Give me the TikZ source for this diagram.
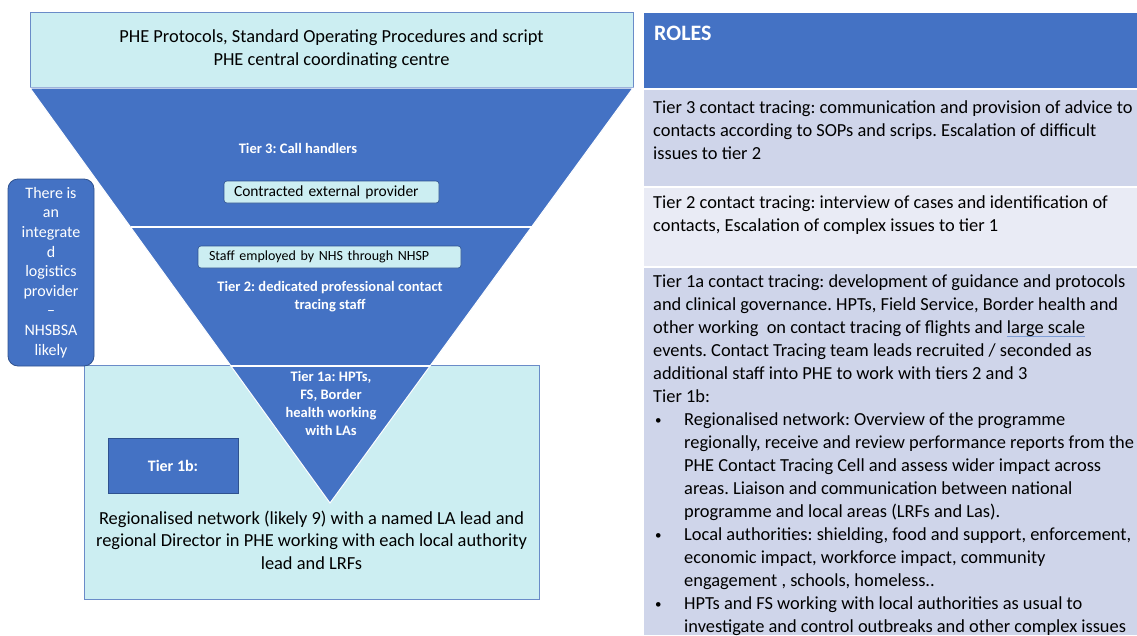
\documentclass[tikz,border=0pt]{standalone}
\usepackage{fontspec}
\setmainfont{Carlito}
\frenchspacing
\definecolor{pblue}{HTML}{4472C4}
\definecolor{dblue}{HTML}{2F528F}
\definecolor{pcyan}{HTML}{CCEEF2}
\definecolor{rowa}{HTML}{CFD5EA}
\definecolor{rowb}{HTML}{E9EBF5}
\definecolor{boxline}{HTML}{6A8BC8}
\definecolor{uline}{HTML}{7F9FD8}
\newcommand\blueul[1]{\setbox0\hbox{#1}\rlap{\color{uline}\rule[-3.5pt]{\wd0}{1pt}}#1}
\newcommand\bul{\makebox[31pt][l]{\hspace{2pt}\raisebox{0.5pt}{\fontsize{13}{13}\selectfont•}}}
\tikzset{
  cyanbox/.style={draw=boxline, line width=1pt, fill=pcyan, inner sep=0pt},
  subbox/.style={draw=dblue, line width=0.6pt, fill=pcyan, rounded corners=3pt, inner ysep=0pt, align=left, minimum height=22pt},
  tiertext/.style={text=white, font=\bfseries\fontsize{14.5}{18}\selectfont, align=center, inner sep=0pt},
  panel/.style={anchor=north west, inner sep=0pt, draw=none, minimum width=493pt},
  roletext/.style={anchor=base west, inner sep=0pt, align=left, font=\fontsize{18.4}{23}\selectfont, text=black},
}
\begin{document}
\begin{tikzpicture}[x=1pt,y=-1pt]
\useasboundingbox (0,0) rectangle (1137,635);
% top box
\node[cyanbox, minimum width=603pt, minimum height=75pt, align=center,
      font=\fontsize{18.4}{23}\selectfont] (top) at (331.5,49.5)
  {PHE Protocols, Standard Operating Procedures and script\\PHE central coordinating centre};
% bottom box
\node[cyanbox, minimum width=455pt, minimum height=234pt] (bottom) at (311.5,482) {};
% inverted triangle
\coordinate (tl) at (30,88);
\coordinate (tr) at (633,88);
\coordinate (apex) at (330,503);
\fill[pblue] (tl) -- (tr) -- (apex) -- cycle;
\draw[white, line width=1pt] (tl) -- (tr) -- (apex) -- cycle;
\coordinate (d3l) at (130.5,227); \coordinate (d3r) at (531.5,227);
\coordinate (d2l) at (231,366);   \coordinate (d2r) at (430,366);
\draw[white, line width=1.5pt] (d3l) -- (d3r);
\draw[white, line width=1.2pt] (d2l) -- (d2r);
% tier 3
\node[tiertext] (t3) at (298,148) {Tier 3: Call handlers};
\node[subbox, text width=195pt, inner xsep=10pt, font=\fontsize{15.5}{16}\selectfont] (cep) at (331.5,192) {Contracted external provider};
% tier 2
\node[subbox, text width=241pt, inner xsep=11pt, font=\fontsize{14}{16}\selectfont] (nhsp) at (329.5,257) {Staff employed by NHS through NHSP};
\node[tiertext] (t2) at (330,297) {Tier 2: dedicated professional contact\\tracing staff};
% tier 1a
\node[tiertext] (t1a) at (331,403) {Tier 1a: HPTs,\\FS, Border\\health working\\with LAs};
% tier 1b
\node[draw=dblue, line width=1pt, fill=pblue, minimum width=130pt, minimum height=55pt,
      text=white, font=\bfseries\fontsize{16}{18}\selectfont] (t1b) at (173,465.5) {Tier 1b:};
\node[align=center, inner sep=0pt, font=\fontsize{18.4}{22.5}\selectfont] (net) at (311.5,540)
  {Regionalised network (likely 9) with a named LA lead and\\regional Director in PHE working with each local authority\\lead and LRFs};
% left logistics box
\node[draw=dblue, line width=0.8pt, fill=pblue, rounded corners=10pt, minimum width=86pt,
      minimum height=187pt, text=white, align=center, inner sep=0pt,
      font=\fontsize{16}{19.6}\selectfont] (logi) at (51,272.5)
  {There is\\an\\integrate\\d\\logistics\\provider\\–\\NHSBSA\\likely};
% right panel
\node[panel, fill=pblue, minimum height=75pt] (hdr) at (644,13) {};
\node[panel, fill=rowa, minimum height=96pt] (row3) at (644,90) {};
\node[panel, fill=rowb, minimum height=78pt] (row2) at (644,188) {};
\node[panel, fill=rowa, minimum height=367pt] (row1) at (644,268) {};
\node[anchor=base west, inner sep=0pt, text=white, font=\bfseries\fontsize{22}{24}\selectfont] (roles) at (654,40.5) {ROLES};
\node[roletext] (r3) at (653,159)
  {Tier 3 contact tracing: communication and provision of advice to\\
   contacts according to SOPs and scrips. Escalation of difficult\\
   issues to tier 2};
\node[roletext] (r2) at (653,231)
  {Tier 2 contact tracing: interview of cases and identification of\\
   contacts, Escalation of complex issues to tier 1};
\node[roletext] (r1) at (653,632)
  {Tier 1a contact tracing: development of guidance and protocols\\
   and clinical governance. HPTs, Field Service, Border health and\\
   other working\ \ on contact tracing of flights and \blueul{large scale}\\
   events. Contact Tracing team leads recruited / seconded as\\
   additional staff into PHE to work with tiers 2 and 3\\
   Tier 1b:\\
   \bul Regionalised network: Overview of the programme\\
   \hspace*{31pt}regionally, receive and review performance reports from the\\
   \hspace*{31pt}PHE Contact Tracing Cell and assess wider impact across\\
   \hspace*{31pt}areas. Liaison and communication between national\\
   \hspace*{31pt}programme and local areas (LRFs and Las).\\
   \bul Local authorities: shielding, food and support, enforcement,\\
   \hspace*{31pt}economic impact, workforce impact, community\\
   \hspace*{31pt}engagement , schools, homeless..\\
   \bul HPTs and FS working with local authorities as usual to\\
   \hspace*{31pt}investigate and control outbreaks and other complex issues};
\end{tikzpicture}
\end{document}
